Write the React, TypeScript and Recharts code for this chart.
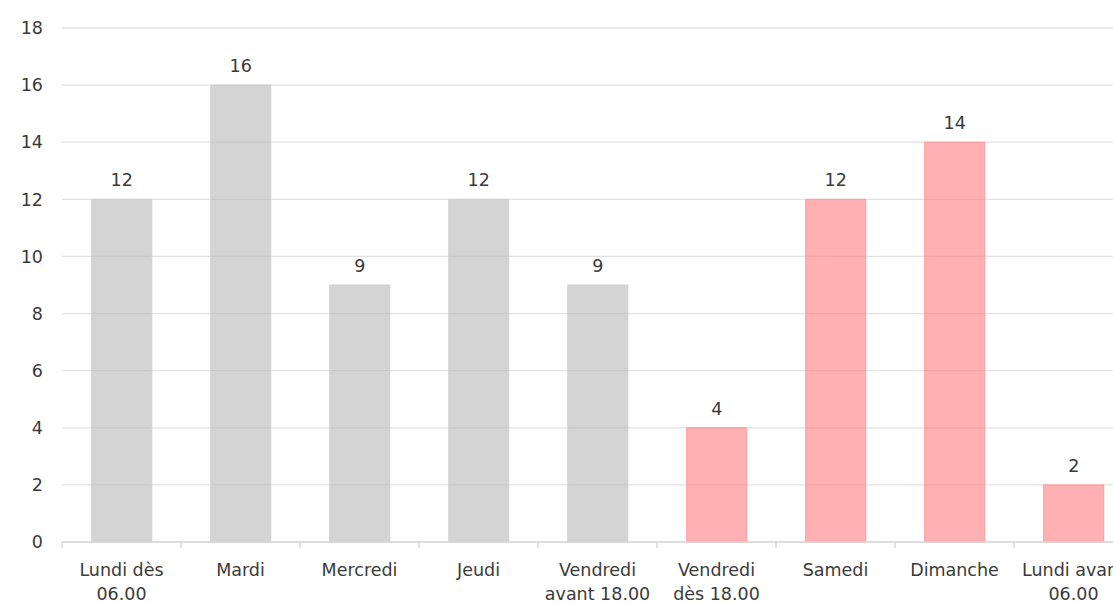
import React from "react";
import { BarChart, Bar, XAxis, YAxis, CartesianGrid, Cell, LabelList } from "recharts";

const categories = [
  "Lundi dès\n06.00",
  "Mardi",
  "Mercredi",
  "Jeudi",
  "Vendredi\navant 18.00",
  "Vendredi\ndès 18.00",
  "Samedi",
  "Dimanche",
  "Lundi avant\n06.00",
];
const values = [12, 16, 9, 12, 9, 4, 12, 14, 2];
const weekend = [false, false, false, false, false, true, true, true, true];
const yTicks = [0, 2, 4, 6, 8, 10, 12, 14, 16, 18];

const GREY = "#b0b0b0";
const PINK = "#ff7074";
const FONT = "DejaVu Sans";
const TEXT = "#3a3a3a";
const AXIS = "#d9d9d9";

const data = categories.map((c, i) => ({ name: c, value: values[i] }));

const CatTick = (props: any) => {
  const { x, y, payload, width, visibleTicksCount } = props;
  const band = width && visibleTicksCount ? width / visibleTicksCount : 0;
  const lines = String(payload.value).split("\n");
  return (
    <g transform={`translate(${x},${y})`}>
      {band > 0 && (
        <line x1={-band / 2} x2={-band / 2} y1={0} y2={6} stroke={AXIS} strokeWidth={1.5} />
      )}
      <text textAnchor="middle" fill={TEXT} fontFamily={FONT} fontSize={17.5}>
        {lines.map((l, i) => (
          <tspan key={i} x={0} y={34 + i * 24}>
            {l}
          </tspan>
        ))}
      </text>
    </g>
  );
};

export default function App() {
  return (
    <div
      style={{
        position: "absolute",
        left: 0,
        top: 0,
        width: 1113,
        height: 604,
        overflow: "hidden",
        background: "#fff",
      }}
    >
      <BarChart
        width={1133}
        height={604}
        data={data}
        margin={{ top: 28, right: 0, bottom: 0, left: 0 }}
        barCategoryGap="25%"
      >
        <CartesianGrid vertical={false} stroke="#e2e2e2" strokeWidth={1.3} />
        <XAxis
          dataKey="name"
          interval={0}
          axisLine={{ stroke: AXIS, strokeWidth: 1.5 }}
          tickLine={false}
          tickSize={0}
          tickMargin={0}
          height={62}
          tick={<CatTick />}
        />
        <YAxis
          domain={[0, 18]}
          ticks={yTicks}
          width={62}
          axisLine={false}
          tickLine={false}
          tickSize={0}
          tickMargin={19}
          tick={{ fill: TEXT, fontFamily: FONT, fontSize: 17.5 }}
        />
        <Bar dataKey="value" isAnimationActive={false} fillOpacity={0.55}>
          {data.map((d, i) => (
            <Cell
              key={d.name}
              fill={weekend[i] ? PINK : GREY}
              stroke={weekend[i] ? "#ff9a9c" : "#cfcfcf"}
              strokeWidth={1}
            />
          ))}
          <LabelList
            dataKey="value"
            position="top"
            offset={13}
            fill={TEXT}
            fontFamily={FONT}
            fontSize={17.5}
          />
        </Bar>
      </BarChart>
    </div>
  );
}
